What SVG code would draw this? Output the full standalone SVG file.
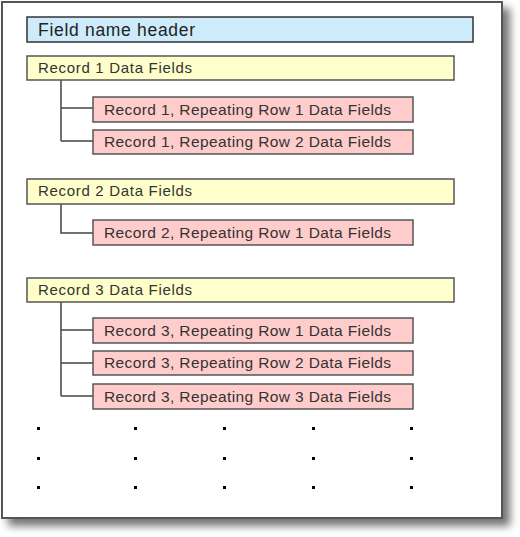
<svg xmlns="http://www.w3.org/2000/svg" width="520" height="537" viewBox="0 0 520 537">
<defs>
<filter id="sh" x="-5%" y="-5%" width="115%" height="115%">
<feGaussianBlur in="SourceAlpha" stdDeviation="4"/>
<feOffset dx="7" dy="7" result="b"/>
<feComponentTransfer><feFuncA type="linear" slope="0.55"/></feComponentTransfer>
<feMerge><feMergeNode/><feMergeNode in="SourceGraphic"/></feMerge>
</filter>
<style>
.t{font-family:"Liberation Sans",Arial,sans-serif;fill:#333;font-size:15px}
.r{font-size:15.5px}
.h{font-size:17.5px;fill:#222}
.hdr{fill:#cdebfb;stroke:#333;stroke-width:1.5}
.rec{fill:#ffffcc;stroke:#555;stroke-width:1.5}
.row{fill:#ffcccc;stroke:#555;stroke-width:1.5}
.c{fill:none;stroke:#444;stroke-width:1.5}
.d{fill:#000}
</style>
</defs>
<rect width="520" height="537" fill="#fff"/>
<rect x="2" y="2" width="500" height="516" fill="#fff" stroke="#555" stroke-width="2" filter="url(#sh)"/>
<g id="connectors">
<path class="c" d="M61 80V141M61 108H93M61 141H93"/>
<path class="c" d="M61 204V233H93"/>
<path class="c" d="M61 302V396M61 330H93M61 363H93M61 396H93"/>
</g>
<g id="header"><rect class="hdr" x="27" y="17" width="446" height="25"/><text class="t h" x="38" y="36" textLength="157">Field name header</text></g>
<g id="record1"><rect class="rec" x="27" y="56" width="427" height="24"/><text class="t" x="38" y="73" textLength="154">Record 1 Data Fields</text></g>
<g id="r1row1"><rect class="row" x="93" y="97" width="320" height="25"/><text class="t r" x="104" y="115" textLength="287">Record 1, Repeating Row 1 Data Fields</text></g>
<g id="r1row2"><rect class="row" x="93" y="130" width="320" height="24"/><text class="t r" x="104" y="147" textLength="287">Record 1, Repeating Row 2 Data Fields</text></g>
<g id="record2"><rect class="rec" x="27" y="179" width="427" height="25"/><text class="t" x="38" y="196" textLength="154">Record 2 Data Fields</text></g>
<g id="r2row1"><rect class="row" x="93" y="220" width="320" height="25"/><text class="t r" x="104" y="238" textLength="287">Record 2, Repeating Row 1 Data Fields</text></g>
<g id="record3"><rect class="rec" x="27" y="278" width="427" height="24"/><text class="t" x="38" y="295" textLength="154">Record 3 Data Fields</text></g>
<g id="r3row1"><rect class="row" x="93" y="318" width="320" height="25"/><text class="t r" x="104" y="336" textLength="287">Record 3, Repeating Row 1 Data Fields</text></g>
<g id="r3row2"><rect class="row" x="93" y="351" width="320" height="24"/><text class="t r" x="104" y="368" textLength="287">Record 3, Repeating Row 2 Data Fields</text></g>
<g id="r3row3"><rect class="row" x="93" y="384" width="320" height="25"/><text class="t r" x="104" y="402" textLength="287">Record 3, Repeating Row 3 Data Fields</text></g>
<g id="dots">
<rect class="d" x="37" y="427" width="3" height="3"/><rect class="d" x="134" y="427" width="3" height="3"/><rect class="d" x="223" y="427" width="3" height="3"/><rect class="d" x="312" y="427" width="3" height="3"/><rect class="d" x="410" y="427" width="3" height="3"/>
<rect class="d" x="37" y="457" width="3" height="3"/><rect class="d" x="134" y="457" width="3" height="3"/><rect class="d" x="223" y="457" width="3" height="3"/><rect class="d" x="312" y="457" width="3" height="3"/><rect class="d" x="410" y="457" width="3" height="3"/>
<rect class="d" x="37" y="486" width="3" height="3"/><rect class="d" x="134" y="486" width="3" height="3"/><rect class="d" x="223" y="486" width="3" height="3"/><rect class="d" x="312" y="486" width="3" height="3"/><rect class="d" x="410" y="486" width="3" height="3"/>
</g>
</svg>
